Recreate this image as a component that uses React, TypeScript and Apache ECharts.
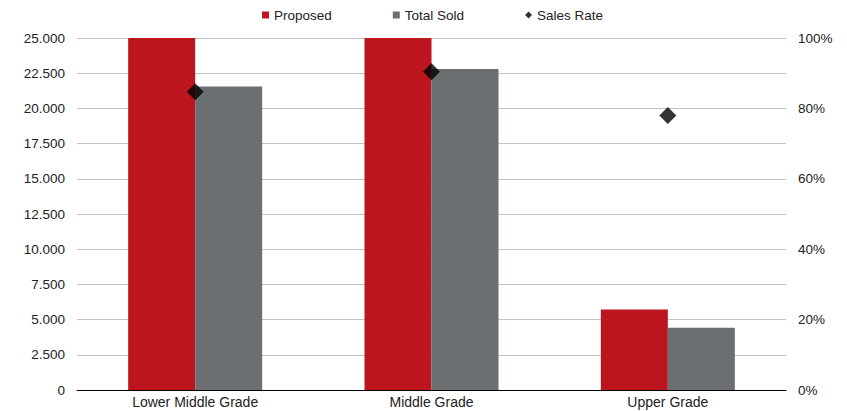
import React, { useEffect, useRef } from "react";
import * as echarts from "echarts";

const categories = ["Lower Middle Grade", "Middle Grade", "Upper Grade"];
const proposed = [25400, 25250, 5710];
const totalSold = [21550, 22800, 4430];
const salesRate = [84.7, 90.4, 78.0];

const FONT = "'Liberation Sans', Arial, sans-serif";
const TXT = "#222";

export default function App() {
  const ref = useRef<HTMLDivElement>(null);
  useEffect(() => {
    const chart = echarts.init(ref.current!, null, { renderer: "svg" });
    const fmt = (v: number) =>
      v === 0 ? "0" : Math.round(v).toString().replace(/\B(?=(\d{3})+(?!\d))/g, ".");
    chart.setOption({
      animation: false,
      textStyle: { fontFamily: FONT },
      legend: {
        top: 0,
        left: 254,
        padding: 0,
        itemWidth: 7,
        itemHeight: 7,
        itemGap: 61,
        textStyle: { fontSize: 13.5, color: TXT, fontFamily: FONT },
        data: [
          { name: "Proposed", icon: "rect" },
          { name: "Total Sold", icon: "rect" },
          { name: "Sales Rate", icon: "diamond" },
        ],
      },
      grid: { left: 69, right: 53, top: 30, bottom: 21, containLabel: false },
      xAxis: {
        type: "category",
        data: categories,
        axisLine: { show: true, lineStyle: { color: "#000", width: 1 } },
        axisTick: { show: false },
        axisLabel: { fontSize: 14, color: TXT, margin: 5, fontFamily: FONT },
      },
      yAxis: [
        {
          type: "value",
          min: 0,
          max: 25000,
          interval: 2500,
          axisLine: { show: false },
          axisTick: { show: false },
          splitLine: { lineStyle: { color: "#c4c4c4", width: 1 } },
          axisLabel: { fontSize: 13.5, color: TXT, margin: 12, formatter: fmt, fontFamily: FONT },
        },
        {
          type: "value",
          min: 0,
          max: 100,
          interval: 20,
          axisLine: { show: false },
          axisTick: { show: false },
          splitLine: { show: false },
          axisLabel: { fontSize: 13.5, color: TXT, margin: 12, formatter: "{value}%", fontFamily: FONT },
        },
      ],
      series: [
        {
          name: "Proposed",
          type: "bar",
          data: proposed,
          barWidth: 67,
          barGap: "0%",
          itemStyle: { color: "#bd151d" },
          clip: true,
        },
        {
          name: "Total Sold",
          type: "bar",
          data: totalSold,
          barWidth: 67,
          barGap: "0%",
          itemStyle: { color: "#6c6f71" },
        },
        {
          name: "Sales Rate",
          type: "scatter",
          yAxisIndex: 1,
          data: salesRate,
          symbol: "diamond",
          symbolSize: 17,
          itemStyle: { color: "#000" },
          z: 5,
        },
      ],
    });
    return () => chart.dispose();
  }, []);
  return <div ref={ref} style={{ width: 831, height: 403 }} />;
}
